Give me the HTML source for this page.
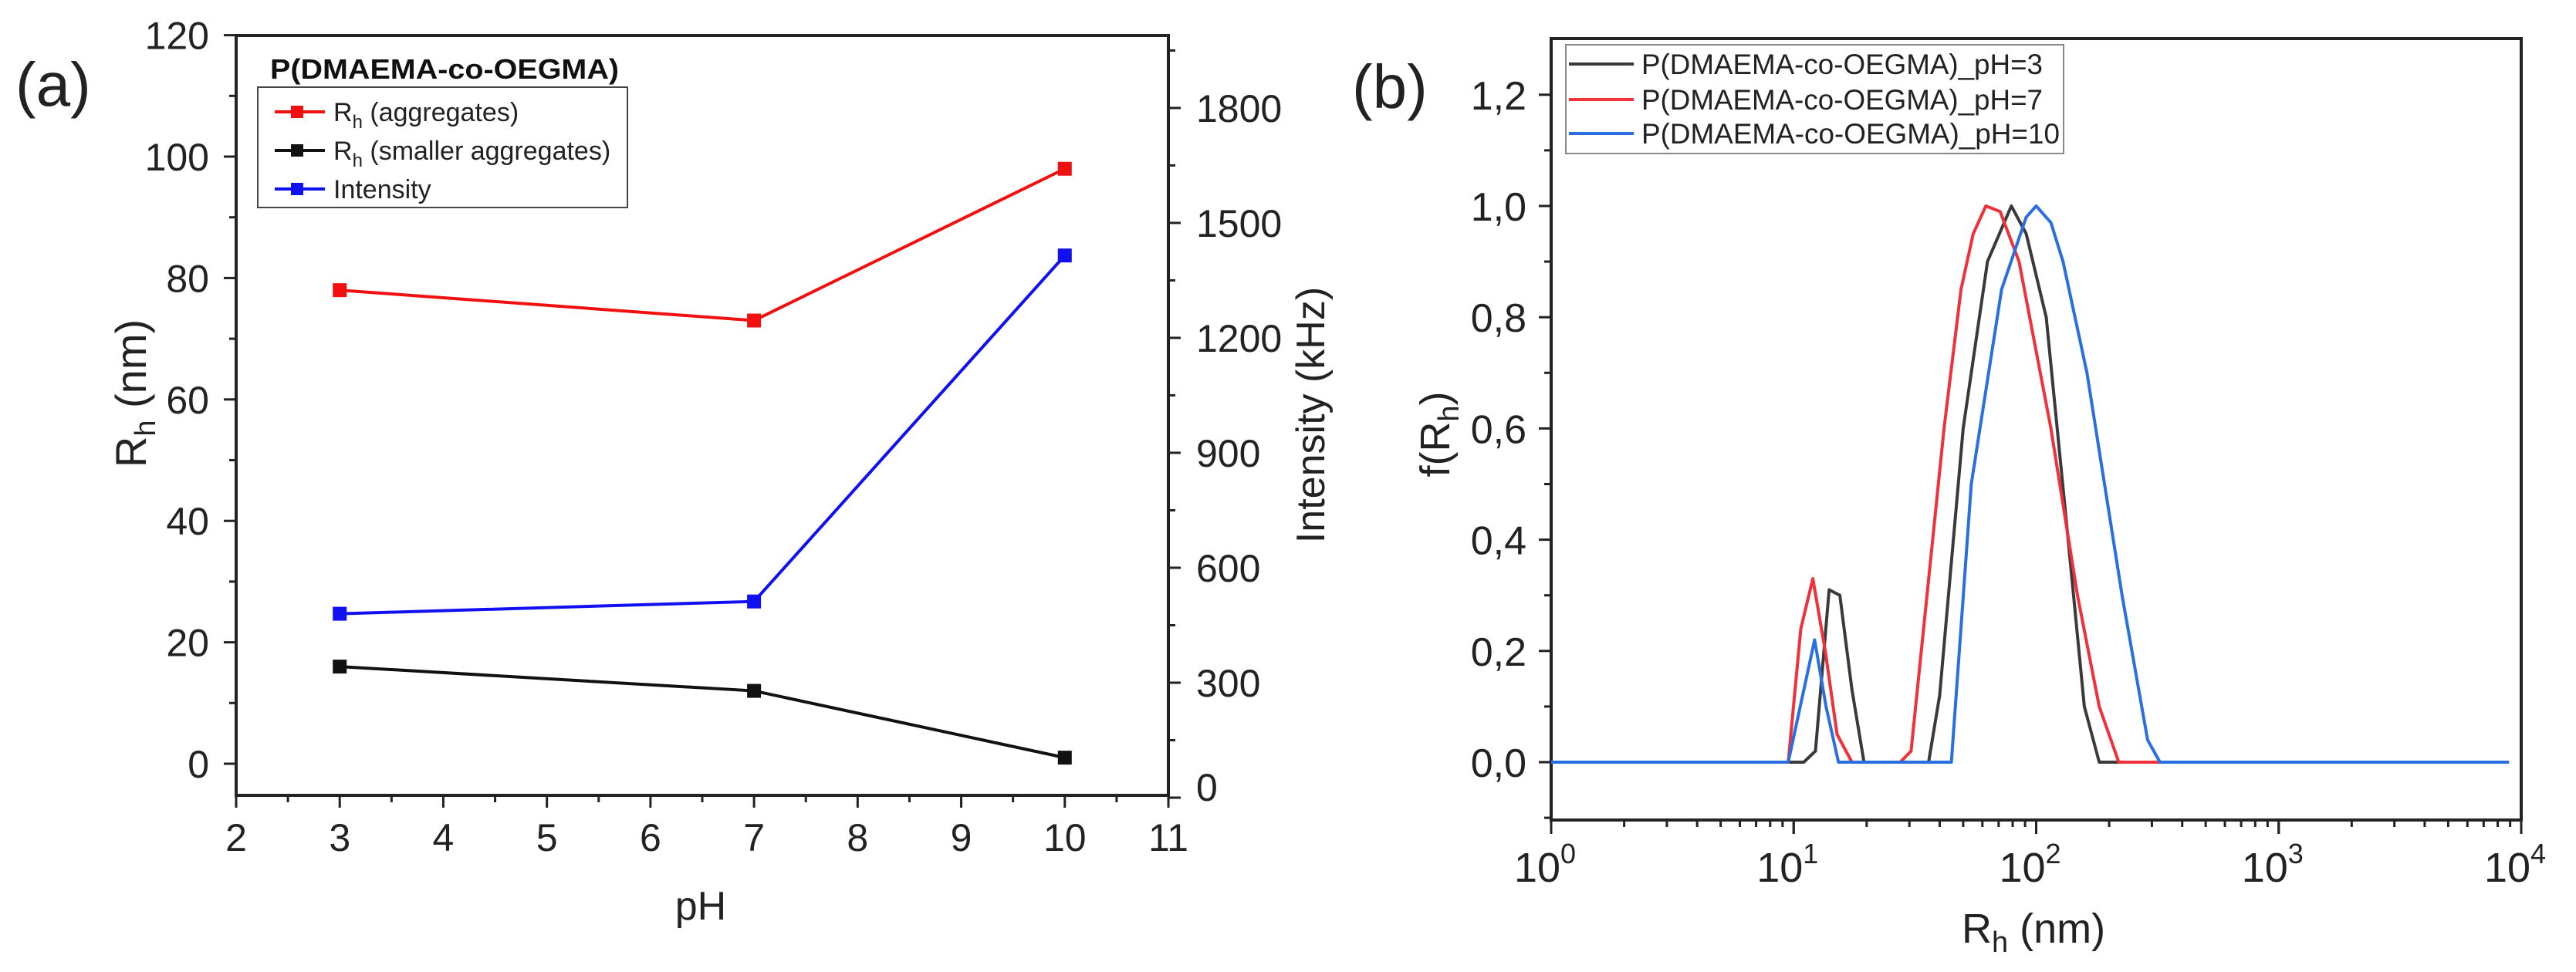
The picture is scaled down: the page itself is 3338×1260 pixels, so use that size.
<!DOCTYPE html>
<html><head><meta charset="utf-8"><style>
html,body{margin:0;padding:0;background:#fff;}
svg{display:block;font-family:"Liberation Sans",Arial,sans-serif;}
</style></head><body>
<svg id="fig" width="3338" height="1260" viewBox="0 0 3338 1260" xmlns="http://www.w3.org/2000/svg">
<g id="pa"></g>
<g id="pb"></g>
</svg>
<script>
// ---------- Panel (a) data ----------
const phValues = [3, 7, 10];
const rhAggregates = [78, 73, 98];
const rhSmaller = [16, 12, 1];
const intensityKHz = [480, 512, 1415];
const leftTicks = [0, 20, 40, 60, 80, 100, 120];
const rightTicks = [0, 300, 600, 900, 1200, 1500, 1800];
const xTicksA = [2, 3, 4, 5, 6, 7, 8, 9, 10, 11];
// ---------- Panel (b) data ----------
const rhPH3 = [1, 11, 12.3, 14, 15.5, 17.4, 19.5, 36, 40, 50, 63, 79, 91, 110, 132, 158, 182, 8900];
const fPH3 = [0, 0, 0.02, 0.31, 0.30, 0.13, 0, 0, 0.12, 0.6, 0.9, 1.0, 0.95, 0.8, 0.45, 0.1, 0, 0];
const rhPH7 = [1, 9.5, 10.7, 12, 13.5, 15.1, 17.4, 27.5, 30.5, 41.7, 49, 55, 62, 71, 85, 115, 148, 182, 219, 8900];
const fPH7 = [0, 0, 0.24, 0.33, 0.2, 0.05, 0, 0, 0.02, 0.6, 0.85, 0.95, 1.0, 0.99, 0.9, 0.6, 0.3, 0.1, 0, 0];
const rhPH10 = [1, 9.5, 12.2, 13.6, 15.3, 44.7, 54, 72, 91, 100, 115, 129, 162, 226, 288, 324, 8900];
const fPH10 = [0, 0, 0.22, 0.1, 0, 0, 0.5, 0.85, 0.98, 1.0, 0.97, 0.9, 0.7, 0.3, 0.04, 0, 0];
const fTicks = [0, 0.2, 0.4, 0.6, 0.8, 1.0, 1.2];
const fTickLabels = ["0,0", "0,2", "0,4", "0,6", "0,8", "1,0", "1,2"];
const decadeExps = [0, 1, 2, 3, 4];

const NS = "http://www.w3.org/2000/svg";
function mk(tag, attrs, parent, text) {
  const e = document.createElementNS(NS, tag);
  for (const k in attrs) e.setAttribute(k, attrs[k]);
  if (text !== undefined) e.textContent = text;
  parent.appendChild(e);
  return e;
}
const pa = document.getElementById('pa');
const pb = document.getElementById('pb');

// ---- Panel a scales ----
const AX0 = 306, AX1 = 1514, AY0 = 46, AY1 = 1031;
const xA = v => AX0 + (v - 2) * (AX1 - AX0) / 9;
const yL = v => 990 - v * 7.87;
const yR = v => 1034 - v * 0.4967;

let e;
e = mk('rect', {x: AX0, y: AY0, width: AX1 - AX0, height: AY1 - AY0, fill: 'none', stroke: '#222', 'stroke-width': 4}, pa);



// left ticks
for (let v = 0; v <= 120; v += 10) {
  const major = v % 20 === 0;
  mk('line', {x1: AX0, x2: AX0 - (major ? 16 : 9), y1: yL(v), y2: yL(v), stroke: '#222', 'stroke-width': 3}, pa);
}
leftTicks.forEach(v => {
  e = mk('text', {x: 271, y: yL(v) + 18, 'font-size': 50, 'text-anchor': 'end', fill: '#222'}, pa, String(v));
  
  
});
// right ticks
for (let v = 0; v <= 1950; v += 150) {
  const major = v % 300 === 0;
  if (yR(v) < AY0) continue;
  mk('line', {x1: AX1, x2: AX1 + (major ? 16 : 9), y1: yR(v), y2: yR(v), stroke: '#222', 'stroke-width': 3}, pa);
}
rightTicks.forEach(v => {
  e = mk('text', {x: 1550, y: Math.min(yR(v), 1020) + 18, 'font-size': 50, fill: '#222'}, pa, String(v));
  
  
});
// x ticks
for (let v = 2; v <= 11; v += 0.5) {
  const major = Number.isInteger(v);
  mk('line', {x1: xA(v), x2: xA(v), y1: AY1, y2: AY1 + (major ? 16 : 9), stroke: '#222', 'stroke-width': 3}, pa);
}
xTicksA.forEach(v => {
  e = mk('text', {x: xA(v), y: 1103, 'font-size': 50, 'text-anchor': 'middle', fill: '#222'}, pa, String(v));
  
  
});
e = mk('text', {x: 908, y: 1192, 'font-size': 52, 'text-anchor': 'middle', fill: '#222'}, pa, 'pH');


e = mk('text', {x: 0, y: 0, 'font-size': 56, 'text-anchor': 'middle', fill: '#222', transform: 'translate(189,510) rotate(-90)'}, pa);
e.innerHTML = 'R<tspan font-size="38" dy="12">h</tspan><tspan dy="-12"> (nm)</tspan>';


e = mk('text', {x: 0, y: 0, 'font-size': 52, 'text-anchor': 'middle', fill: '#222', transform: 'translate(1716,538) rotate(-90)'}, pa, 'Intensity (kHz)');


e = mk('text', {x: 20, y: 137, 'font-size': 80, fill: '#222'}, pa, '(a)');



function seriesA(vals, ys, color, name) {
  const pts = phValues.map((p, i) => xA(p) + ',' + ys(vals[i])).join(' ');
  const l = mk('polyline', {points: pts, fill: 'none', stroke: color, 'stroke-width': 4}, pa);
  
  
  phValues.forEach((p, i) => {
    const r = mk('rect', {x: xA(p) - 9, y: ys(vals[i]) - 9, width: 18, height: 18, fill: color}, pa);
    
    
  });
}
seriesA(rhAggregates, yL, '#f01010', 'rh-aggregates');
seriesA(rhSmaller, yL, '#111', 'rh-smaller');
seriesA(intensityKHz, yR, '#1010f0', 'intensity');

// legend a
e = mk('text', {x: 350, y: 102, 'font-size': 36, 'font-weight': 'bold', fill: '#111', textLength: 452, lengthAdjust: 'spacingAndGlyphs'}, pa, 'P(DMAEMA-co-OEGMA)');


e = mk('rect', {x: 334, y: 113, width: 479, height: 156, fill: '#fff', stroke: '#444', 'stroke-width': 2}, pa);


const legA = [['#f01010', '(aggregates)', true, 145], ['#111', '(smaller aggregates)', true, 195], ['#1010f0', 'Intensity', false, 245]];
legA.forEach(([c, t, rh, y]) => {
  mk('line', {x1: 356, x2: 421, y1: y, y2: y, stroke: c, 'stroke-width': 4}, pa);
  mk('rect', {x: 377, y: y - 8, width: 16, height: 16, fill: c}, pa);
  const tx = mk('text', {x: 432, y: y + 12, 'font-size': 34, fill: '#222'}, pa);
  tx.innerHTML = rh ? 'R<tspan font-size="24" dy="9">h</tspan><tspan dy="-9"> ' + t + '</tspan>' : t;
  
  
});

// ---- Panel b scales ----
const BX0 = 2010, BX1 = 3267, BY0 = 50, BY1 = 1063;
const xB = v => BX0 + Math.log10(v) * (BX1 - BX0) / 4;
const yB = v => 988 - v * 721;
e = mk('rect', {x: BX0, y: BY0, width: BX1 - BX0, height: BY1 - BY0, fill: 'none', stroke: '#222', 'stroke-width': 4}, pb);


for (let v = -0.1; v <= 1.25; v += 0.1) {
  const vv = Math.round(v * 10) / 10;
  const major = Math.round(vv * 10) % 2 === 0;
  mk('line', {x1: BX0, x2: BX0 - (major ? 16 : 9), y1: yB(vv), y2: yB(vv), stroke: '#222', 'stroke-width': 3}, pb);
}
fTicks.forEach((v, i) => {
  e = mk('text', {x: 1978, y: yB(v) + 19, 'font-size': 52, 'text-anchor': 'end', fill: '#222'}, pb, fTickLabels[i]);
  
  
});
for (let d = 0; d < 4; d++) {
  for (let m = 1; m <= 10; m++) {
    const v = m * Math.pow(10, d);
    mk('line', {x1: xB(v), x2: xB(v), y1: BY1, y2: BY1 + (m === 1 || m === 10 ? 18 : 9), stroke: '#222', 'stroke-width': 3}, pb);
  }
}
decadeExps.forEach(k => {
  const t = mk('text', {x: xB(Math.pow(10, k)) - 8, y: 1143, 'font-size': 54, 'text-anchor': 'middle', fill: '#222'}, pb);
  t.innerHTML = '10<tspan font-size="36" dy="-24">' + k + '</tspan>';
  
  
});
e = mk('text', {x: 2635, y: 1222, 'font-size': 54, 'text-anchor': 'middle', fill: '#222'}, pb);
e.innerHTML = 'R<tspan font-size="38" dy="12">h</tspan><tspan dy="-12"> (nm)</tspan>';


e = mk('text', {x: 0, y: 0, 'font-size': 54, 'text-anchor': 'middle', fill: '#222', transform: 'translate(1878,563) rotate(-90)'}, pb);
e.innerHTML = 'f(R<tspan font-size="38" dy="12">h</tspan><tspan dy="-12">)</tspan>';


e = mk('text', {x: 1752, y: 140, 'font-size': 80, fill: '#222'}, pb, '(b)');



function seriesB(xs, ys, color, name) {
  const pts = xs.map((x, i) => xB(x).toFixed(1) + ',' + yB(ys[i]).toFixed(1)).join(' ');
  const l = mk('polyline', {points: pts, fill: 'none', stroke: color, 'stroke-width': 4, 'stroke-linejoin': 'round'}, pb);
  
  
}
seriesB(rhPH3, fPH3, '#3a3a3a', 'curve-ph3');
seriesB(rhPH7, fPH7, '#f0303a', 'curve-ph7');
seriesB(rhPH10, fPH10, '#2a6fe0', 'curve-ph10');

e = mk('rect', {x: 2029, y: 58, width: 645, height: 141, fill: '#fff', stroke: '#888', 'stroke-width': 2}, pb);


const legB = [['#3a3a3a', 'P(DMAEMA-co-OEGMA)_pH=3', 83, 520], ['#f0303a', 'P(DMAEMA-co-OEGMA)_pH=7', 129, 520], ['#2a6fe0', 'P(DMAEMA-co-OEGMA)_pH=10', 173, 542]];
legB.forEach(([c, t, y, w]) => {
  mk('line', {x1: 2033, x2: 2117, y1: y, y2: y, stroke: c, 'stroke-width': 4}, pb);
  const tx = mk('text', {x: 2127, y: y + 13, 'font-size': 37, fill: '#222', textLength: w, lengthAdjust: 'spacingAndGlyphs'}, pb, t);
  
  
});
</script>
</body></html>
